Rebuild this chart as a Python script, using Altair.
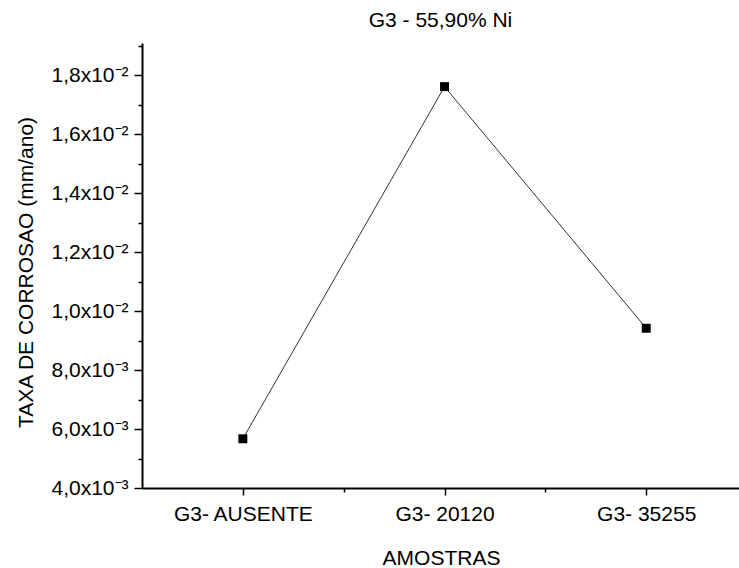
import json
import altair as alt
import pandas as pd

FONT = "Liberation Sans"
FS = 21

# Samples and their corrosion rates (mm/ano)
samples = ["G3- AUSENTE", "G3- 20120", "G3- 35255"]
sample_pos = [1, 2, 3]
rates = [0.00567, 0.01762, 0.00942]

# Axis ticks
x_minor = [1.5, 2.5]
y_major = [0.004, 0.006, 0.008, 0.010, 0.012, 0.014, 0.016, 0.018]
y_major_labels = ["4,0x10⁻³", "6,0x10⁻³", "8,0x10⁻³", "1,0x10⁻²",
                  "1,2x10⁻²", "1,4x10⁻²", "1,6x10⁻²", "1,8x10⁻²"]
y_minor = [0.005, 0.007, 0.009, 0.011, 0.013, 0.015, 0.017, 0.019]

df = pd.DataFrame({"pos": sample_pos, "amostra": samples, "taxa": rates})


def js(a):
    return json.dumps(a, ensure_ascii=False)


x_label_expr = (f"indexof({js(sample_pos)}, datum.value) >= 0 ? "
                f"{js(samples)}[indexof({js(sample_pos)}, datum.value)] : ''")
y_label_expr = (f"indexof({js(y_major)}, datum.value) >= 0 ? "
                f"{js(y_major_labels)}[indexof({js(y_major)}, datum.value)] : ''")

x_axis = alt.Axis(
    values=sorted(sample_pos + x_minor),
    labelExpr=x_label_expr,
    title="AMOSTRAS",
    titleX=299, titleY=76, titleBaseline="alphabetic", titleAlign="center",
    titleFont=FONT, titleFontSize=FS, titleFontWeight="normal", titleColor="black",
    labelFont=FONT, labelFontSize=FS, labelColor="black", labelPadding=8,
    labelFlush=False, labelOverlap=False,
    tickSize={"condition": {"test": f"indexof({js(x_minor)}, datum.value) >= 0", "value": 4}, "value": 7},
    tickColor="black", tickWidth=1.5,
    domainColor="black", domainWidth=2, grid=False,
)

y_axis = alt.Axis(
    values=sorted(y_major + y_minor),
    labelExpr=y_label_expr,
    title="TAXA DE CORROSAO (mm/ano)",
    titleX=-110, titleY=229, titleAngle=270, titleBaseline="alphabetic", titleAlign="center",
    titleFont=FONT, titleFontSize=FS, titleFontWeight="normal", titleColor="black",
    labelFont=FONT, labelFontSize=FS, labelColor="black", labelPadding=6,
    labelFlush=False, labelOverlap=False,
    tickSize={"condition": {"test": f"indexof({js(y_minor)}, datum.value) >= 0", "value": 4}, "value": 8},
    tickColor="black", tickWidth=1.5,
    domainColor="black", domainWidth=2, grid=False,
)

x_enc = alt.X("pos:Q", scale=alt.Scale(domain=[0.5, 3.46], nice=False, zero=False), axis=x_axis)
y_enc = alt.Y("taxa:Q", scale=alt.Scale(domain=[0.004, 0.0191], nice=False, zero=False), axis=y_axis)

line = alt.Chart(df).mark_line(color="#333333", strokeWidth=1).encode(x=x_enc, y=y_enc)
points = alt.Chart(df).mark_point(shape="square", filled=True, size=80, color="black", opacity=1).encode(
    x=x_enc, y=y_enc
)

chart = (
    (line + points)
    .properties(
        width=597,
        height=445,
        autosize=alt.AutoSizeParams(type="none"),
        padding={"left": 142, "top": 43, "right": 0, "bottom": 80},
        background="white",
        title=alt.TitleParams(
            "G3 - 55,90% Ni", font=FONT, fontSize=FS, fontWeight="normal", color="black",
            anchor="middle", frame="group", baseline="alphabetic", offset=15, dy=28,
        ),
    )
    .configure_view(strokeWidth=0)
)

chart.save("out.html", embed_options={"renderer": "svg", "actions": False})
